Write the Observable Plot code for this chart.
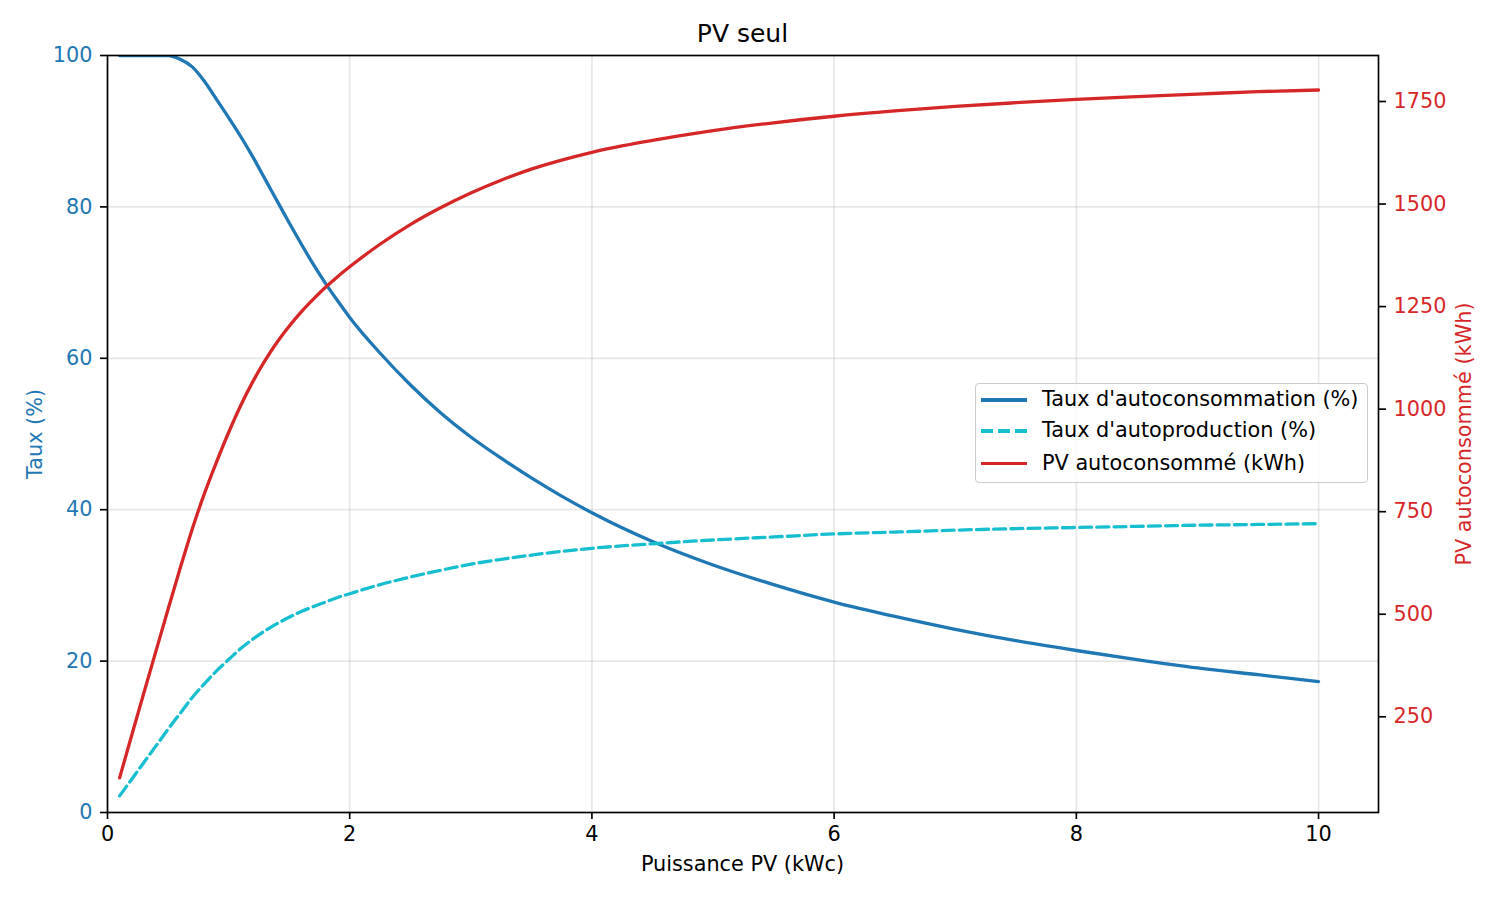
<!DOCTYPE html>
<html>
<head>
<meta charset="utf-8">
<script src="https://cdn.jsdelivr.net/npm/d3@7"></script>
<script src="https://cdn.jsdelivr.net/npm/@observablehq/plot@0.6"></script>
<style>
  html, body { margin: 0; padding: 0; background: white; }
  #wrap { position: relative; width: 1500px; height: 900px; font-family: "DejaVu Sans", sans-serif; }
  #wrap svg { position: absolute; left: 0; top: 0; }
  .lbl { position: absolute; white-space: nowrap; line-height: 1; }
  .legend { position: absolute; left: 975px; top: 383px; width: 393px; height: 100px; box-sizing: border-box;
            border: 1.6px solid #cccccc; border-radius: 4px; background: rgba(255,255,255,0.8); }
  .sw { position: absolute; left: 981px; width: 46px; height: 3.2px; }
  .lt { position: absolute; left: 1042px; font-size: 20.8px; line-height: 1; white-space: nowrap; color: black; }
</style>
</head>
<body>
<div id="wrap"></div>
<script>
// Puissance PV (kWc)
const xPower = [0.1,0.2,0.3,0.4,0.5,0.6,0.7,0.8,0.9,1.0,
                1.1,1.2,1.3,1.4,1.5,1.6,1.7,1.8,1.9,2.0,
                2.25,2.5,2.75,3.0,3.25,3.5,3.75,4.0,
                4.5,5.0,5.5,6.0,6.5,7.0,7.5,8.0,8.5,9.0,9.5,10.0];
// Taux d'autoconsommation (%)
const tauxAutoconso = [100,100,100,100,100,99.5,98.5,96.6,94.2,91.8,
                       89.3,86.6,83.7,80.8,77.9,75.1,72.4,69.9,67.6,65.4,
                       60.7,56.5,52.8,49.6,46.8,44.2,41.8,39.6,
                       35.8,32.7,30.1,27.8,25.9,24.2,22.7,21.4,20.2,19.1,18.2,17.3];
// Taux d'autoproduction (%)
const tauxAutoprod = [2.2,4.4,6.6,8.8,11.0,13.1,15.2,17.0,18.7,20.2,
                      21.65,22.9,24.0,24.95,25.8,26.55,27.2,27.8,28.4,28.9,
                      30.1,31.1,32.0,32.8,33.45,34.0,34.5,34.9,
                      35.5,36.0,36.4,36.8,37.05,37.3,37.5,37.65,37.8,37.95,38.05,38.15];
// PV autoconsommé (kWh)
const pvAutoconso = [101,205,308,410,512,612,708,794,871,943,
                     1009,1067,1118,1163,1202,1237,1268,1297,1323,1347,
                     1402,1450,1491,1527,1558,1585,1607,1626,
                     1655,1679,1698,1714,1727,1738,1747,1755,1762,1768,1774,1778];

const xTicks = [0, 2, 4, 6, 8, 10];
const leftTicks = [0, 20, 40, 60, 80, 100];
const rightTicks = [250, 500, 750, 1000, 1250, 1500, 1750];

const titleText = "PV seul";
const xLabel = "Puissance PV (kWc)";
const yLeftLabel = "Taux (%)";
const yRightLabel = "PV autoconsommé (kWh)";
const seriesNames = ["Taux d'autoconsommation (%)", "Taux d'autoproduction (%)", "PV autoconsommé (kWh)"];

const BLUE = "#1f77b4", CYAN = "#17becf", RED = "#d62728";

const rows = xPower.map((x, i) => ({x, autoconso: tauxAutoconso[i], autoprod: tauxAutoprod[i], pv: pvAutoconso[i]}));

const dims = {width: 1500, height: 900, marginLeft: 107, marginRight: 122, marginTop: 55, marginBottom: 88};
const xDomain = [0, 10.495];
const fontStyle = {fontFamily: "DejaVu Sans", fontSize: "20.8px", color: "black"};
const LW = 3.3;

const gridStyle = {stroke: "#b0b0b0", strokeOpacity: 0.3, strokeWidth: 1.67};

const p1 = Plot.plot({
  ...dims,
  x: {domain: xDomain},
  y: {domain: [0, 100]},
  style: {...fontStyle, background: "white"},
  marks: [
    Plot.ruleX(xTicks, gridStyle),
    Plot.ruleY(leftTicks, gridStyle),
    Plot.line(rows, {x: "x", y: "autoconso", stroke: BLUE, strokeWidth: LW, curve: "monotone-x", clip: true}),
    Plot.line(rows, {x: "x", y: "autoprod", stroke: CYAN, strokeWidth: LW, strokeDasharray: "12,5.2", curve: "monotone-x", clip: true}),
    Plot.axisX({ticks: xTicks, tickSize: 7, tickPadding: 7, stroke: "black", fill: "black", strokeWidth: 1.67, label: null, fontSize: 20.8}),
    Plot.axisY({ticks: leftTicks, tickSize: 7, tickPadding: 8, stroke: "black", fill: BLUE, strokeWidth: 1.67, label: null, fontSize: 20.8}),
    Plot.frame({stroke: "black", strokeWidth: 1.67})
  ]
});

const p2 = Plot.plot({
  ...dims,
  x: {domain: xDomain, axis: null},
  y: {domain: [16.7, 1862.1]},
  style: {...fontStyle, background: "transparent"},
  marks: [
    Plot.line(rows, {x: "x", y: "pv", stroke: RED, strokeWidth: LW, curve: "monotone-x", clip: true}),
    Plot.axisY({anchor: "right", ticks: rightTicks, tickFormat: d3.format("d"), tickSize: 7, tickPadding: 8,
                stroke: "black", fill: RED, strokeWidth: 1.67, label: null, fontSize: 20.8})
  ]
});

const wrap = document.getElementById("wrap");
wrap.appendChild(p1);
wrap.appendChild(p2);

function addLabel(text, {cx, baseline, fs, color = "black", rotate = false}) {
  const d = document.createElement("div");
  d.className = "lbl";
  d.textContent = text;
  d.style.fontSize = fs + "px";
  d.style.color = color;
  if (!rotate) {
    d.style.left = cx + "px";
    d.style.top = (baseline - 0.846 * fs) + "px";
    d.style.transform = "translateX(-50%)";
  } else {
    const centerX = baseline - 0.346 * fs;
    d.style.left = centerX + "px";
    d.style.top = cx + "px";
    d.style.transform = "translate(-50%,-50%) rotate(-90deg)";
  }
  wrap.appendChild(d);
}

addLabel(titleText, {cx: 742.5, baseline: 42, fs: 25});
addLabel(xLabel, {cx: 742.5, baseline: 872, fs: 20.8});
addLabel(yLeftLabel, {cx: 433.5, baseline: 42, fs: 20.8, color: BLUE, rotate: true});
addLabel(yRightLabel, {cx: 433.5, baseline: 1471, fs: 20.8, color: RED, rotate: true});

// legend
const leg = document.createElement("div");
leg.className = "legend";
wrap.appendChild(leg);
const legendRows = [
  {name: seriesNames[0], color: BLUE, dashed: false, y: 400, base: 406.7},
  {name: seriesNames[1], color: CYAN, dashed: true, y: 431, base: 437.7},
  {name: seriesNames[2], color: RED, dashed: false, y: 463.3, base: 470.3}
];
for (const r of legendRows) {
  const s = document.createElement("div");
  s.className = "sw";
  s.style.top = (r.y - 1.6) + "px";
  s.style.background = r.dashed
    ? `repeating-linear-gradient(to right, ${r.color} 0px, ${r.color} 12px, transparent 12px, transparent 17.2px)`
    : r.color;
  wrap.appendChild(s);
  const t = document.createElement("div");
  t.className = "lt";
  t.textContent = r.name;
  t.style.top = (r.base - 0.846 * 20.8) + "px";
  wrap.appendChild(t);
}
</script>
</body>
</html>
